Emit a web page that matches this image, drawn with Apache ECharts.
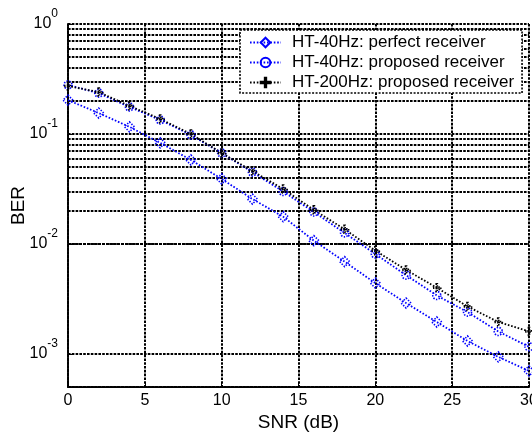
<!DOCTYPE html>
<html>
<head>
<meta charset="utf-8">
<script src="https://cdn.jsdelivr.net/npm/echarts@6/dist/echarts.min.js"></script>
<style>html,body{margin:0;padding:0;background:#fff;}#c{width:532px;height:434px;}</style>
</head>
<body>
<div id="c"></div>
<script>
const snr = [0, 2, 4, 6, 8, 10, 12, 14, 16, 18, 20, 22, 24, 26, 28, 30];
const perfect40 = [0.203, 0.155, 0.116, 0.083, 0.058, 0.039, 0.0256, 0.0177, 0.0107, 0.0069, 0.0044, 0.0029, 0.00195, 0.00131, 0.00094, 0.00070];
const proposed40 = [0.279, 0.235, 0.176, 0.134, 0.098, 0.067, 0.045, 0.030, 0.0195, 0.0126, 0.0081, 0.0052, 0.0034, 0.0024, 0.0016, 0.00116];
const proposed200 = [0.273, 0.24, 0.18, 0.137, 0.1, 0.067, 0.046, 0.0316, 0.0204, 0.0136, 0.0087, 0.0058, 0.0040, 0.0027, 0.00195, 0.0016];
const seriesNames = ['HT-40Hz: perfect receiver', 'HT-40Hz: proposed receiver', 'HT-200Hz: proposed receiver'];
const xTicks = [0, 5, 10, 15, 20, 25, 30];
const yMin = 5e-4, yMax = 1;
const minorY = [6e-4, 7e-4, 8e-4, 9e-4,
  2e-3, 3e-3, 4e-3, 5e-3, 6e-3, 7e-3, 8e-3, 9e-3,
  2e-2, 3e-2, 4e-2, 5e-2, 6e-2, 7e-2, 8e-2, 9e-2,
  0.2, 0.3, 0.4, 0.5, 0.6, 0.7, 0.8, 0.9];

const FONT = '"Liberation Sans", Arial, sans-serif';
const gridDash = [2.6, 1.2];
const plusPath = 'path://M4.3,0 L5.7,0 L5.7,4.3 L10,4.3 L10,5.7 L5.7,5.7 L5.7,10 L4.3,10 L4.3,5.7 L0,5.7 L0,4.3 L4.3,4.3 Z';

function pairs(ys) { return snr.map((x, i) => [x, ys[i]]); }

function lineSeries(name, ys, color, symbol, size) {
  return {
    name: name, type: 'line', data: pairs(ys), z: 5,
    symbol: symbol, symbolSize: size,
    lineStyle: { color: color, width: 1.8, type: [1.6, 1.8] },
    itemStyle: { color: 'rgba(255,255,255,0)', borderColor: color, borderWidth: 1.6, borderType: [1.4, 1.4] },
    emphasis: { disabled: true }, animation: false
  };
}

const chart = echarts.init(document.getElementById('c'), null, { renderer: 'canvas' });
chart.setOption({
  animation: false,
  backgroundColor: '#fff',
  textStyle: { fontFamily: FONT },
  grid: { left: 68, right: 3, top: 24, bottom: 47, containLabel: false, outerBoundsMode: 'none' },
  legend: {
    z: 20,
    left: 240, top: 30,
    orient: 'vertical',
    backgroundColor: '#fff',
    borderColor: '#000', borderWidth: 1.6, borderType: [2, 1.5],
    padding: [3, 8, 1, 9],
    itemWidth: 31, itemHeight: 12, itemGap: 1,
    textStyle: { fontFamily: FONT, fontSize: 17, lineHeight: 19, color: '#000', padding: [0, 0, 0, 6] },
    data: seriesNames
  },
  xAxis: {
    type: 'value', min: 0, max: 30, interval: 5,
    name: 'SNR (dB)', nameLocation: 'middle', nameGap: 26, nameMoveOverlap: false,
    nameTextStyle: { fontFamily: FONT, fontSize: 19, color: '#000' },
    axisLine: { show: true, lineStyle: { color: '#000', width: 2, type: gridDash } },
    axisTick: { show: true, inside: true, length: 5, lineStyle: { color: '#000' } },
    axisLabel: { fontFamily: FONT, fontSize: 16, color: '#000', margin: 6,
      formatter: v => xTicks.indexOf(v) >= 0 ? String(v) : '' },
    splitLine: { show: true, lineStyle: { color: '#000', width: 2, type: gridDash } }
  },
  yAxis: {
    type: 'log', logBase: 10, min: yMin, max: yMax,
    name: 'BER', nameLocation: 'middle', nameGap: 40, nameMoveOverlap: false,
    nameTextStyle: { fontFamily: FONT, fontSize: 19, color: '#000' },
    axisLine: { show: true, lineStyle: { color: '#000', width: 2, type: gridDash } },
    axisTick: { show: true, inside: true, length: 5, lineStyle: { color: '#000' } },
    axisLabel: {
      margin: 10, color: '#000',
      formatter: function (v) {
        const l = Math.log10(v);
        if (Math.abs(l - Math.round(l)) > 1e-6) return '';
        return '{b|10}{s|' + Math.round(l) + '}';
      },
      rich: {
        b: { fontFamily: FONT, fontSize: 16, color: '#000', lineHeight: 32 },
        s: { fontFamily: FONT, fontSize: 12, color: '#000', verticalAlign: 'top', lineHeight: 12 }
      }
    },
    splitLine: { show: true, lineStyle: { color: '#000', width: 2, type: gridDash } }
  },
  series: [
    {
      name: 'grid-minor', type: 'line', data: [], z: 1, silent: true,
      markLine: {
        silent: true, symbol: ['none', 'none'], animation: false,
        label: { show: false },
        lineStyle: { color: '#000', width: 2, type: gridDash },
        data: minorY.map(v => ({ yAxis: v }))
      }
    },
    lineSeries(seriesNames[0], perfect40, '#0000ff', 'diamond', 10),
    lineSeries(seriesNames[1], proposed40, '#0000ff', 'circle', 8),
    lineSeries(seriesNames[2], proposed200, '#000000', plusPath, 8)
  ]
});
</script>
</body>
</html>
